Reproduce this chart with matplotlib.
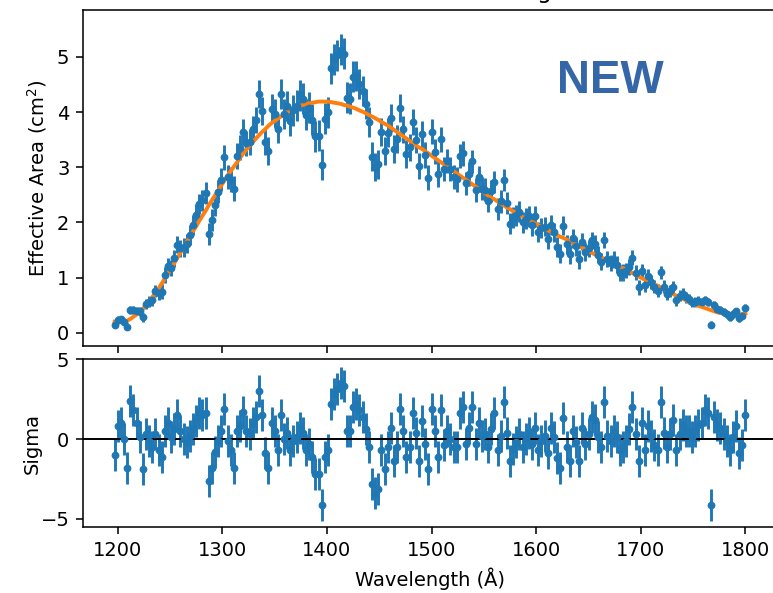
import numpy as np
import matplotlib
matplotlib.use("Agg")
import matplotlib.pyplot as plt

# wavelength grid of the measured points (Angstrom), 3 A apart
wavelength = np.arange(1197, 1801, 3)

# fitted effective area curve at each wavelength (cm^2)
model = [
    0.20, 0.19, 0.19, 0.20, 0.22, 0.25, 0.29, 0.33, 0.38, 0.43,
    0.50, 0.57, 0.64, 0.72, 0.80, 0.89, 0.98, 1.07, 1.16, 1.26,
    1.36, 1.45, 1.55, 1.65, 1.74, 1.84, 1.93, 2.03, 2.12, 2.21,
    2.31, 2.40, 2.49, 2.58, 2.67, 2.76, 2.85, 2.93, 3.01, 3.09,
    3.17, 3.25, 3.32, 3.39, 3.45, 3.52, 3.58, 3.64, 3.69, 3.75,
    3.80, 3.84, 3.88, 3.92, 3.96, 4.00, 4.03, 4.06, 4.09, 4.11,
    4.13, 4.15, 4.16, 4.17, 4.18, 4.19, 4.19, 4.19, 4.19, 4.18,
    4.17, 4.16, 4.15, 4.13, 4.12, 4.10, 4.08, 4.06, 4.03, 4.01,
    3.98, 3.95, 3.92, 3.89, 3.86, 3.82, 3.79, 3.76, 3.72, 3.68,
    3.64, 3.60, 3.56, 3.52, 3.48, 3.44, 3.40, 3.36, 3.33, 3.29,
    3.25, 3.21, 3.17, 3.13, 3.09, 3.05, 3.01, 2.97, 2.93, 2.89,
    2.85, 2.81, 2.77, 2.73, 2.69, 2.65, 2.61, 2.57, 2.53, 2.49,
    2.45, 2.42, 2.38, 2.34, 2.31, 2.27, 2.24, 2.20, 2.17, 2.14,
    2.10, 2.07, 2.04, 2.01, 1.98, 1.95, 1.92, 1.89, 1.86, 1.83,
    1.80, 1.77, 1.74, 1.72, 1.69, 1.66, 1.63, 1.60, 1.57, 1.54,
    1.51, 1.48, 1.45, 1.42, 1.40, 1.37, 1.34, 1.31, 1.28, 1.25,
    1.22, 1.19, 1.17, 1.14, 1.11, 1.08, 1.05, 1.02, 0.99, 0.96,
    0.93, 0.90, 0.88, 0.85, 0.82, 0.79, 0.76, 0.73, 0.70, 0.67,
    0.64, 0.62, 0.59, 0.56, 0.54, 0.51, 0.49, 0.47, 0.45, 0.43,
    0.41, 0.39, 0.37, 0.36, 0.35, 0.34, 0.33, 0.33, 0.33, 0.33,
    0.34, 0.35,
]

# 1-sigma uncertainty of each measured point (cm^2)
err = [
    0.06, 0.06, 0.06, 0.06, 0.06, 0.07, 0.07, 0.07, 0.08, 0.08,
    0.09, 0.10, 0.10, 0.11, 0.12, 0.13, 0.14, 0.14, 0.15, 0.15,
    0.16, 0.16, 0.17, 0.17, 0.18, 0.18, 0.19, 0.19, 0.19, 0.20,
    0.20, 0.20, 0.21, 0.21, 0.21, 0.22, 0.22, 0.22, 0.22, 0.23,
    0.23, 0.23, 0.23, 0.24, 0.24, 0.24, 0.25, 0.25, 0.25, 0.25,
    0.26, 0.26, 0.26, 0.27, 0.27, 0.27, 0.27, 0.28, 0.28, 0.28,
    0.28, 0.28, 0.28, 0.28, 0.28, 0.28, 0.28, 0.28, 0.28, 0.28,
    0.28, 0.28, 0.28, 0.28, 0.28, 0.28, 0.28, 0.27, 0.27, 0.27,
    0.27, 0.27, 0.26, 0.26, 0.26, 0.26, 0.26, 0.26, 0.25, 0.25,
    0.25, 0.25, 0.25, 0.25, 0.24, 0.24, 0.24, 0.24, 0.24, 0.23,
    0.23, 0.23, 0.23, 0.23, 0.23, 0.22, 0.22, 0.22, 0.22, 0.22,
    0.22, 0.22, 0.21, 0.21, 0.21, 0.21, 0.21, 0.21, 0.21, 0.20,
    0.20, 0.20, 0.20, 0.20, 0.20, 0.20, 0.19, 0.19, 0.19, 0.19,
    0.19, 0.19, 0.19, 0.19, 0.19, 0.18, 0.18, 0.18, 0.18, 0.18,
    0.18, 0.18, 0.17, 0.17, 0.17, 0.17, 0.17, 0.17, 0.17, 0.16,
    0.16, 0.16, 0.16, 0.16, 0.16, 0.16, 0.15, 0.15, 0.15, 0.15,
    0.15, 0.15, 0.15, 0.14, 0.14, 0.14, 0.14, 0.14, 0.13, 0.13,
    0.13, 0.13, 0.12, 0.12, 0.12, 0.12, 0.11, 0.11, 0.11, 0.11,
    0.10, 0.10, 0.10, 0.09, 0.09, 0.09, 0.09, 0.08, 0.08, 0.08,
    0.065, 0.08, 0.07, 0.07, 0.07, 0.07, 0.07, 0.07, 0.07, 0.07,
    0.07, 0.07,
]

# residuals of the data against the fit, in units of sigma
sigma = [
    -1.0, 0.8, 1.0, 0.0, -1.8, 2.4, 1.8, 1.0, 0.1, -1.9,
    0.3, -0.1, -0.5, 0.3, -0.7, -1.1, 0.5, 1.0, 0.1, 0.6,
    1.5, 0.5, 0.0, -0.2, 0.2, 0.6, 1.1, 1.6, 1.5, 1.6,
    -2.6, -1.8, -0.8, -0.1, 0.5, 1.9, -0.1, -0.7, -1.8, 0.5,
    0.8, 1.7, 0.5, 0.3, 1.0, 1.4, 3.0, 1.5, -0.9, -1.8,
    1.0, 0.5, -0.7, 1.5, 0.0, 0.4, -0.7, -0.1, 0.1, 0.7,
    0.4, -0.7, -0.3, -1.1, -2.2, -2.2, -4.1, -1.1, -0.7, 2.2,
    2.8, 3.1, 3.5, 3.3, 0.5, 0.5, 2.0, 2.2, 1.8, 1.4,
    0.6, -0.5, -2.8, -3.4, -3.1, -0.7, -1.9, -0.5, 0.7, -1.4,
    -0.5, 1.9, 0.5, -1.1, -0.5, 1.6, 0.4, -1.4, 1.1, -0.3,
    -1.9, 1.9, 0.5, -1.1, 1.8, -0.4, 0.5, 0.0, -0.5, -0.5,
    1.6, 2.0, -0.3, 0.7, 2.0, -0.3, 1.0, 0.2, 0.3, -0.5,
    0.6, 1.6, -0.7, 0.2, 2.3, 0.4, -1.4, -0.6, -0.2, 0.3,
    -0.5, 0.0, 0.4, -0.3, 0.7, -0.7, -0.1, 0.2, -0.9, 0.7,
    0.1, -1.2, -1.8, 1.3, -0.5, -1.4, 0.5, -0.2, -1.4, 0.7,
    -0.3, 0.3, 1.4, 1.2, 0.1, -0.5, 2.3, 0.2, -0.1, 0.5,
    0.1, -0.7, -0.5, -0.1, 0.6, 2.0, 0.3, -1.4, 1.0, -0.7,
    0.8, 0.2, -0.4, -0.7, 2.3, 0.4, -0.5, 0.3, 1.2, -0.7,
    0.3, 0.9, 0.5, 0.5, 0.1, 0.5, 0.9, 1.0, 1.8, 1.6,
    -4.1, 1.4, 0.9, 0.7, 0.3, -0.1, -0.7, 0.1, 0.8, -0.9,
    -0.4, 1.5,
]

model = np.array(model)
err = np.array(err)
sigma = np.array(sigma)
area = model + sigma * err  # measured effective area

dpi = 140
fig = plt.figure(figsize=(773 / dpi, 593 / dpi), dpi=dpi)
ax1 = fig.add_axes([0.1074, 0.4165, 0.8978, 0.5666])
ax2 = fig.add_axes([0.1074, 0.1113, 0.8978, 0.2833], sharex=ax1)

ax1.errorbar(wavelength, area, yerr=err, fmt='.', color='C0')
ax1.plot(wavelength, model, color='C1', lw=2)
ax1.set_ylabel("Effective Area (cm$^2$)")
ax1.set_ylim(-0.24, 5.85)
ax1.tick_params(labelbottom=False)
# title sits above the visible area, as in the cropped original
ax1.set_title("Effective Area Fitting")

ax2.errorbar(wavelength, sigma, yerr=np.ones_like(sigma), fmt='.', color='C0')
ax2.axhline(0, color='k', lw=1)
ax2.set_ylim(-5.5, 5)
ax2.set_ylabel("Sigma")
ax2.yaxis.set_label_coords(-0.06, 0.5)
ax2.set_xlabel("Wavelength (Å)")

fig.text(0.7206, 0.8427, "NEW", fontsize=23.5, fontweight='bold',
         family='Liberation Sans', color='#3566a8', ha='left', va='baseline')

fig.savefig("out.png", dpi=dpi)
